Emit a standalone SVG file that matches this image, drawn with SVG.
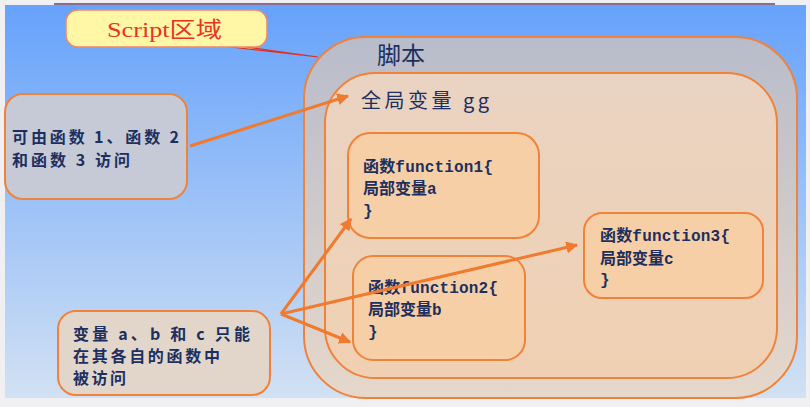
<svg xmlns="http://www.w3.org/2000/svg" width="810" height="407" viewBox="0 0 810 407">
<defs>
<linearGradient id="bg" x1="0" y1="0" x2="0" y2="1">
<stop offset="0" stop-color="#66a2fb"/>
<stop offset="1" stop-color="#d2e1f3"/>
</linearGradient>
<linearGradient id="outerFill" x1="0" y1="0" x2="0" y2="1">
<stop offset="0" stop-color="#b8bcca"/>
<stop offset="1" stop-color="#e6d8ca"/>
</linearGradient>
<linearGradient id="innerFill" x1="0" y1="0" x2="0" y2="1">
<stop offset="0" stop-color="#e9d3c2"/>
<stop offset="1" stop-color="#f0d0b2"/>
</linearGradient>
<marker id="arr" viewBox="0 0 10 10" refX="9" refY="5" markerWidth="4" markerHeight="4" orient="auto" markerUnits="strokeWidth">
<path d="M0,0 L10,5 L0,10 z" fill="#f07a2e"/>
</marker>
</defs>
<style>
.box{stroke:#f0823a;stroke-width:2}
.fn{fill:#f7cfa7}
.t{font-family:"Noto Sans CJK SC","Liberation Sans",sans-serif;fill:#1c2f5e;font-weight:bold}
.h{font-family:"Noto Sans CJK SC","Liberation Sans",sans-serif;fill:#1c2f5e;font-weight:normal}
.m{font-family:"Liberation Mono","Noto Sans CJK SC",monospace;fill:#1c2f5e;font-size:16px;font-weight:bold}
.s{font-family:"Liberation Serif","Noto Sans CJK SC",serif;fill:#e83424;font-size:22px}
.conn{stroke:#f07a2e;stroke-width:3;fill:none}
</style>
<rect x="0" y="0" width="810" height="407" fill="#f0f0f2"/>
<rect x="5" y="5" width="801" height="393" fill="url(#bg)"/>
<line x1="54" y1="4" x2="775" y2="4" stroke="#8c6c8c" stroke-width="2"/>

<g id="script-outer">
<rect class="box" x="304" y="37" width="493" height="361" rx="62" ry="62" fill="url(#outerFill)"/>
<text class="h" x="377" y="64" font-size="24">脚本</text>
</g>

<g id="global">
<rect class="box" x="325" y="73" width="452" height="305" rx="50" ry="50" fill="url(#innerFill)"/>
<text class="h" x="361" y="108" font-size="20" textLength="128" lengthAdjust="spacing">全局变量 gg</text>
</g>

<g id="function1">
<rect class="box fn" x="348" y="133" width="191" height="105" rx="22" ry="22"/>
<text class="m" x="363" y="172" textLength="130" lengthAdjust="spacing">函数function1{</text>
<text class="m" x="363" y="194">局部变量a</text>
<text class="m" x="363" y="216">}</text>
</g>

<g id="function2">
<rect class="box fn" x="353" y="256" width="172" height="104" rx="20" ry="20"/>
<text class="m" x="368" y="293" textLength="130" lengthAdjust="spacing">函数function2{</text>
<text class="m" x="368" y="315">局部变量b</text>
<text class="m" x="368" y="337">}</text>
</g>

<g id="function3">
<rect class="box fn" x="584" y="213" width="179" height="85" rx="18" ry="18"/>
<text class="m" x="600" y="241" textLength="130" lengthAdjust="spacing">函数function3{</text>
<text class="m" x="600" y="264">局部变量c</text>
<text class="m" x="600" y="285">}</text>
</g>

<g id="note-global">
<rect class="box" x="5" y="94" width="182" height="105" rx="18" ry="18" fill="#c6cad6"/>
<text class="t" x="12" y="143" font-size="16" textLength="167" lengthAdjust="spacing">可由函数 1、函数 2</text>
<text class="t" x="12" y="166" font-size="16" textLength="118" lengthAdjust="spacing">和函数 3 访问</text>
</g>

<g id="note-local">
<rect class="box" x="58" y="311" width="212" height="84" rx="18" ry="18" fill="#e2d6cb"/>
<text class="t" x="73" y="340" font-size="16" textLength="177" lengthAdjust="spacing">变量 a、b 和 c 只能</text>
<text class="t" x="73" y="362" font-size="16" textLength="147" lengthAdjust="spacing">在其各自的函数中</text>
<text class="t" x="73" y="384" font-size="16" textLength="53" lengthAdjust="spacing">被访问</text>
</g>

<g id="callout">
<path d="M232,45 L318,57 L222,46 Z" fill="#f8e8a0" stroke="#d8302a" stroke-width="1.2"/>
<rect x="66" y="10" width="201" height="37" rx="12" ry="12" fill="#fff6a6" stroke="#f08a6a" stroke-width="1.5"/>
<text class="s" x="107" y="37" textLength="115" lengthAdjust="spacingAndGlyphs">Script区域</text>
</g>

<g id="connectors">
<line class="conn" x1="190" y1="146" x2="348" y2="96" marker-end="url(#arr)"/>
<line class="conn" x1="281" y1="314" x2="351" y2="219" marker-end="url(#arr)"/>
<line class="conn" x1="281" y1="314" x2="350" y2="342" marker-end="url(#arr)"/>
<line class="conn" x1="281" y1="314" x2="577" y2="245" marker-end="url(#arr)"/>
</g>
</svg>
